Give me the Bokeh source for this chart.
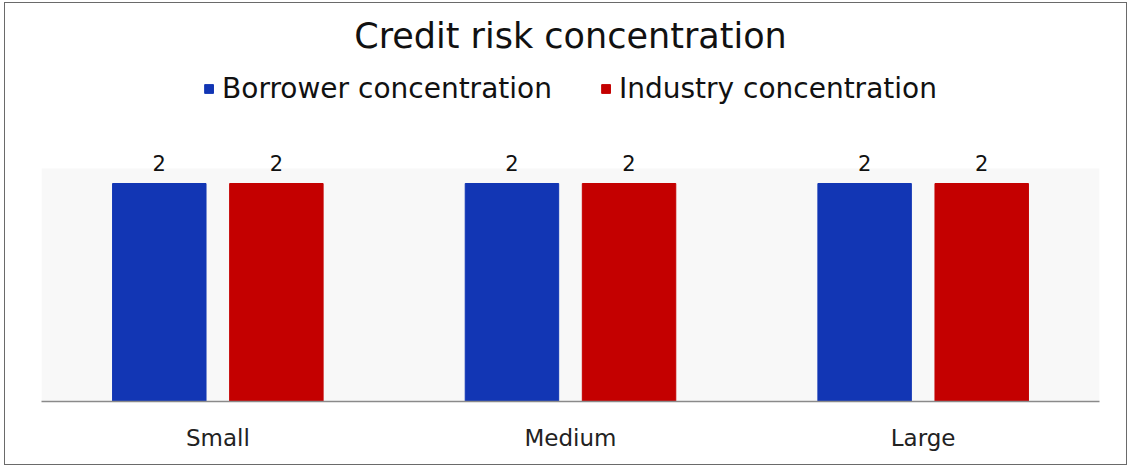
from bokeh.plotting import figure
from bokeh.core.properties import value
from bokeh.models import (ColumnDataSource, LabelSet, Legend, LegendItem,
                          BoxAnnotation, FactorRange, Range1d)
from bokeh.transform import dodge
from bokeh.embed import file_html
from bokeh.resources import INLINE

# Chart data
categories = ["Small", "Medium", "Large"]
series_names = ["Borrower concentration", "Industry concentration"]
borrower = [2, 2, 2]
industry = [2, 2, 2]
series_colors = ["#1236b4", "#c40000"]

FONT = "DejaVu Sans"

src = ColumnDataSource(dict(
    cat=categories,
    borrower=borrower,
    industry=industry,
    borrower_txt=[str(v) for v in borrower],
    industry_txt=[str(v) for v in industry],
))

# Canvas sits inside a 1px frame offset (5, 3) px from the page corner.
OX, OY = 5, 3
W, H = 1131 - OX - 3, 468 - OY - 2
FRAME_TOP = 60 - OY
FRAME_BOTTOM = 401 - OY
BAR_TOP = 183 - OY
BAND_Y = 168 - OY

# value range chosen so the bars reach BAR_TOP
Y_END = 2 * (FRAME_BOTTOM - FRAME_TOP) / (FRAME_BOTTOM - BAR_TOP)
BAND_TOP = 2 * (FRAME_BOTTOM - BAND_Y) / (FRAME_BOTTOM - BAR_TOP)

p = figure(
    width=W, height=H,
    x_range=FactorRange(*categories),
    y_range=Range1d(0, Y_END),
    output_backend="svg", toolbar_location=None,
    min_border_left=41 - OX, min_border_right=W - (1099 - OX),
    min_border_top=FRAME_TOP, min_border_bottom=H - FRAME_BOTTOM,
    title="Credit risk concentration",
)
p.styles = {"border": "1px solid #6a6a6a", "margin-left": f"{OX - 1}px",
            "margin-top": f"{OY - 1}px"}

p.title.align = "center"
p.title.text_font = FONT
p.title.text_font_style = "normal"
p.title.text_font_size = "35px"
p.title.text_color = "#111111"

p.background_fill_color = "white"
p.border_fill_color = "white"
p.outline_line_color = None
p.grid.visible = False
p.yaxis.visible = False

# faint plot-area shading below the value labels
p.add_layout(BoxAnnotation(bottom=0, top=BAND_TOP, fill_color="#f8f8f8",
                           fill_alpha=1.0, line_color=None, level="underlay"))

OFFSET = 0.166
BAR_W = 0.265

r1 = p.vbar(x=dodge("cat", -OFFSET, range=p.x_range), top="borrower",
            width=BAR_W, source=src, fill_color=series_colors[0],
            line_color=series_colors[0])
r2 = p.vbar(x=dodge("cat", OFFSET, range=p.x_range), top="industry",
            width=BAR_W, source=src, fill_color=series_colors[1],
            line_color=series_colors[1])

for col, txt, off in (("borrower", "borrower_txt", -OFFSET),
                      ("industry", "industry_txt", OFFSET)):
    p.add_layout(LabelSet(
        x=dodge("cat", off, range=p.x_range), y=col, text=txt, source=src,
        text_align="center", text_baseline="bottom", y_offset=13,
        text_font=value(FONT), text_font_size=value("21px"),
        text_color="#111111"))

xa = p.xaxis[0]
xa.axis_line_color = "#8a8a8a"
xa.axis_line_width = 1.5
xa.major_tick_line_color = None
xa.minor_tick_line_color = None
xa.major_label_text_font = FONT
xa.major_label_text_font_size = "23px"
xa.major_label_text_color = "#222222"
xa.major_label_standoff = 17

legend = Legend(
    items=[LegendItem(label=series_names[0], renderers=[r1]),
           LegendItem(label=series_names[1], renderers=[r2])],
    orientation="horizontal", location="top_center",
    glyph_width=11, glyph_height=11, label_standoff=8, spacing=48,
    padding=0, margin=12,
    label_text_font=FONT, label_text_font_size="28px",
    label_text_color="#111111",
    border_line_alpha=0, background_fill_alpha=0,
)
p.add_layout(legend)

open("out.html", "w").write(file_html(p, INLINE))
